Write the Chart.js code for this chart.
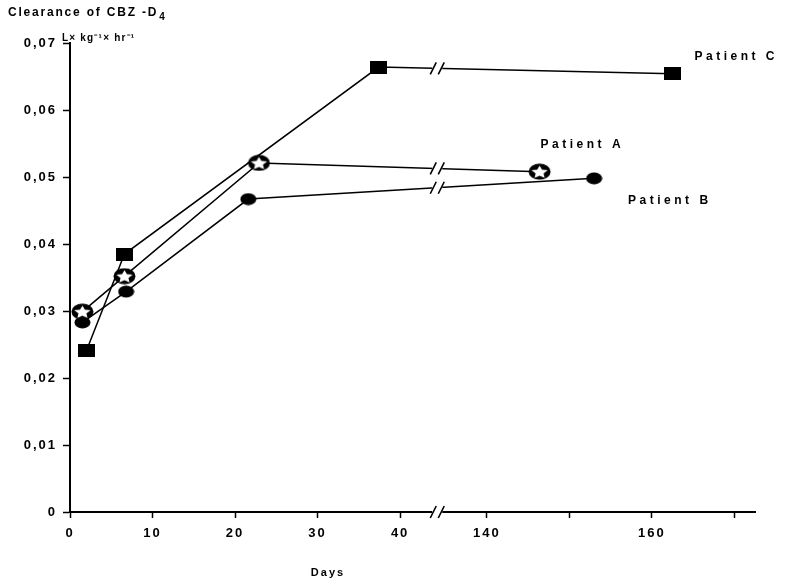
<!DOCTYPE html>
<html>
<head>
<meta charset="utf-8">
<script src="https://cdn.jsdelivr.net/npm/chart.js@4.4.1/dist/chart.umd.min.js"></script>
<style>
  html, body { margin: 0; padding: 0; background: #fff; }
  #wrap { width: 808px; height: 583px; }
</style>
</head>
<body>
<div id="wrap"><canvas id="chart"></canvas></div>
<script>
// clearance of CBZ-D4 per patient, days after start
const patientADays = [1.5, 6.6, 22.9, 146.4];
const patientAClear = [0.0299, 0.0352, 0.0521, 0.0508];
const patientBDays = [1.5, 6.8, 21.6, 153];
const patientBClear = [0.0283, 0.0329, 0.0467, 0.0498];
const patientCDays = [2, 6.6, 37.4, 162.5];
const patientCClear = [0.0241, 0.0385, 0.0664, 0.0654];

const xTickDays = [0, 10, 20, 30, 40, 140, 150, 160, 170];
const xTickLabels = ['0', '10', '20', '30', '40', '140', '', '160', ''];
const yTicks = [0, 0.01, 0.02, 0.03, 0.04, 0.05, 0.06, 0.07];
const yTickLabels = ['0', '0,01', '0,02', '0,03', '0,04', '0,05', '0,06', '0,07'];

// the axis skips days 40..140
const skipFrom = 40;
const skipDays = 89.5;
const breakAt = 44.5;
const toAxis = d => d > skipFrom ? d - skipDays : d;

const FONT = 'Liberation Sans, Arial, sans-serif';

// markers
function makeMarker(kind) {
    const c = document.createElement('canvas');
    const g = c.getContext('2d');
    if (kind === 'square') {
        c.width = 17; c.height = 13;
        g.fillStyle = '#000';
        g.fillRect(0, 0, 17, 13);
    } else if (kind === 'dot') {
        c.width = 17; c.height = 13;
        g.fillStyle = '#000';
        g.beginPath();
        g.ellipse(8.5, 6.5, 8, 6, 0, 0, Math.PI * 2);
        g.fill();
    } else {
        c.width = 23; c.height = 17;
        g.fillStyle = '#000';
        g.beginPath();
        g.ellipse(11.5, 8.5, 11, 8, 0, 0, Math.PI * 2);
        g.fill();
        g.fillStyle = '#fff';
        g.beginPath();
        for (let i = 0; i < 10; i++) {
            const r = i % 2 === 0 ? 7.5 : 3.6;
            const a = -Math.PI / 2 + i * Math.PI / 5;
            const px = 11.5 + Math.cos(a) * r * 1.15;
            const py = 9.2 + Math.sin(a) * r * 0.9;
            if (i === 0) g.moveTo(px, py); else g.lineTo(px, py);
        }
        g.closePath();
        g.fill();
    }
    return c;
}

function pts(days, vals) {
    return days.map((d, i) => ({ x: toAxis(d), y: vals[i] }));
}

const datasets = [
    { label: 'Patient A', data: pts(patientADays, patientAClear), pointStyle: makeMarker('star'),
      labelOffset: [1, -27] },
    { label: 'Patient B', data: pts(patientBDays, patientBClear), pointStyle: makeMarker('dot'),
      labelOffset: [34, 22] },
    { label: 'Patient C', data: pts(patientCDays, patientCClear), pointStyle: makeMarker('square'),
      labelOffset: [22, -17] },
].map(ds => Object.assign(ds, {
    borderColor: '#000',
    backgroundColor: '#000',
    borderWidth: 1.5,
    tension: 0,
    clip: false,
    pointRadius: 8,
    pointHoverRadius: 8
}));

function slashes(ctx, x, y) {
    ctx.save();
    ctx.fillStyle = '#fff';
    ctx.fillRect(x - 5, y - 2, 10, 4);
    ctx.strokeStyle = '#000';
    ctx.lineWidth = 1.6;
    ctx.beginPath();
    ctx.moveTo(x - 7, y + 6); ctx.lineTo(x - 1, y - 6);
    ctx.moveTo(x + 1, y + 6); ctx.lineTo(x + 7, y - 6);
    ctx.stroke();
    ctx.restore();
}

const decorPlugin = {
    id: 'decor',
    beforeUpdate(chart) { chart.ctx.letterSpacing = '2px'; },
    beforeDraw(chart) { chart.ctx.letterSpacing = '2px'; },
    afterDatasetsDraw(chart) {
        const ctx = chart.ctx;
        const xs = chart.scales.x, ys = chart.scales.y;
        const bx = xs.getPixelForValue(breakAt);

        // axis break
        slashes(ctx, bx, chart.chartArea.bottom);

        // line breaks
        chart.data.datasets.forEach(ds => {
            const d = ds.data;
            for (let i = 0; i < d.length - 1; i++) {
                if (d[i].x < breakAt && d[i + 1].x > breakAt) {
                    const x1 = xs.getPixelForValue(d[i].x), x2 = xs.getPixelForValue(d[i + 1].x);
                    const y1 = ys.getPixelForValue(d[i].y), y2 = ys.getPixelForValue(d[i + 1].y);
                    slashes(ctx, bx, y1 + (y2 - y1) * (bx - x1) / (x2 - x1));
                }
            }
        });

        ctx.save();
        ctx.fillStyle = '#000';
        ctx.textBaseline = 'middle';
        ctx.textAlign = 'left';

        // patient names next to the last point
        ctx.font = 'bold 12px ' + FONT;
        ctx.letterSpacing = '3.5px';
        chart.data.datasets.forEach(ds => {
            const last = ds.data[ds.data.length - 1];
            ctx.fillText(ds.label,
                xs.getPixelForValue(last.x) + ds.labelOffset[0],
                ys.getPixelForValue(last.y) + ds.labelOffset[1]);
        });

        // y axis heading
        ctx.font = 'bold 12px ' + FONT;
        ctx.letterSpacing = '1.8px';
        const head = 'Clearance of CBZ -D';
        ctx.fillText(head, 8, 13);
        const w = ctx.measureText(head).width;
        ctx.font = 'bold 10px ' + FONT;
        ctx.fillText('4', 8 + w + 1, 17);
        ctx.font = 'bold 10px ' + FONT;
        ctx.letterSpacing = '1.2px';
        ctx.fillText('L\u00d7 kg\u207b\u00b9\u00d7 hr\u207b\u00b9', 62, 38);

        // x axis title
        ctx.font = 'bold 11px ' + FONT;
        ctx.letterSpacing = '2px';
        ctx.textAlign = 'center';
        ctx.fillText('Days', 328, 573);
        ctx.restore();
    }
};

const ctx = document.getElementById('chart').getContext('2d');
const chart = new Chart(ctx, {
    type: 'line',
    data: { datasets: datasets },
    options: {
        responsive: true,
        maintainAspectRatio: false,
        animation: false,
        events: [],
        layout: { padding: { top: 43, right: 53, left: 0, bottom: 0 } },
        plugins: {
            legend: { display: false },
            tooltip: { enabled: false }
        },
        scales: {
            x: {
                type: 'linear',
                min: 0,
                max: 83,
                afterFit: s => { s.height = 71; },
                afterBuildTicks: s => { s.ticks = xTickDays.map(d => ({ value: toAxis(d) })); },
                ticks: {
                    autoSkip: false,
                    maxRotation: 0,
                    padding: 8,
                    color: '#000',
                    font: { family: FONT, size: 13, weight: 'bold' },
                    callback: (v, i) => xTickLabels[i]
                },
                grid: { drawOnChartArea: false, drawTicks: true, tickLength: 6, tickColor: '#000', tickWidth: 1.5 },
                border: { display: true, color: '#000', width: 2 }
            },
            y: {
                min: 0,
                max: 0.07,
                afterFit: s => { s.width = 70; },
                afterBuildTicks: s => { s.ticks = yTicks.map(v => ({ value: v })); },
                ticks: {
                    padding: 6,
                    color: '#000',
                    font: { family: FONT, size: 13, weight: 'bold' },
                    callback: (v, i) => yTickLabels[i]
                },
                grid: { drawOnChartArea: false, drawTicks: true, tickLength: 7, tickColor: '#000', tickWidth: 1.5 },
                border: { display: true, color: '#000', width: 2 }
            }
        }
    },
    plugins: [decorPlugin]
});
</script>
</body>
</html>
